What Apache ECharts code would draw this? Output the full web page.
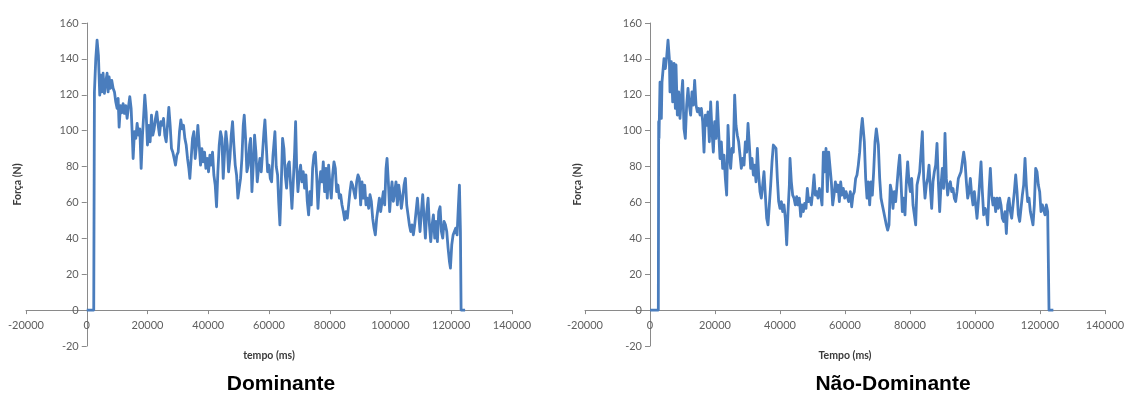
<!DOCTYPE html>
<html>
<head>
<meta charset="utf-8">
<script src="https://cdn.jsdelivr.net/npm/echarts@6/dist/echarts.min.js"></script>
<style>
  html, body { margin: 0; padding: 0; background: #ffffff; }
  #chart { width: 1125px; height: 394px; }
</style>
</head>
<body>
<div id="chart"></div>
<script>
// Força (N) ao longo do tempo (ms) — membro dominante
const domTempo = [0, 2300, 2530, 2970, 3400, 3840, 4280, 4610, 4940, 5380, 5820, 6260, 6700, 7030, 7360, 7800, 8240, 8680, 9120, 9560, 10000, 10330, 10660, 11100, 11540, 11970, 12410, 12850, 13290, 13730, 14170, 14610, 14940, 15270, 15710, 16150, 16590, 17030, 17470, 17910, 18350, 18790, 19110, 19550, 19990, 20430, 20870, 21310, 21750, 22190, 22630, 23070, 23510, 23950, 24390, 24830, 25270, 25710, 26150, 26580, 27020, 27460, 27900, 28340, 28780, 29220, 29660, 30100, 30540, 30980, 31420, 31860, 32300, 32740, 33180, 33610, 33940, 34380, 34820, 35260, 35700, 36140, 36580, 37020, 37460, 37900, 38340, 38780, 39220, 39660, 40100, 40540, 40970, 41410, 41850, 42290, 42730, 43170, 43610, 44050, 44490, 44930, 45370, 45810, 46250, 46690, 47130, 47570, 48000, 48440, 48880, 49320, 49760, 50200, 50640, 51080, 51520, 51850, 52290, 52730, 53170, 53610, 53940, 54380, 54820, 55250, 55690, 56130, 56570, 57010, 57450, 57890, 58330, 58660, 59100, 59540, 59980, 60420, 60860, 61300, 61740, 61950, 62380, 62830, 63200, 63590, 64030, 64470, 64910, 65350, 65790, 66230, 66670, 67110, 67550, 67990, 68430, 68760, 69090, 69530, 69970, 70400, 70840, 71280, 71720, 72160, 72600, 73040, 73480, 73920, 74360, 74800, 75240, 75680, 76120, 76560, 77000, 77430, 77870, 78310, 78750, 79190, 79630, 80070, 80510, 80950, 81390, 81830, 82270, 82710, 83150, 83590, 84030, 84470, 84900, 85340, 85780, 86220, 86660, 87100, 87540, 87980, 88420, 88860, 89300, 89740, 90180, 90620, 91060, 91500, 91930, 92370, 92810, 93250, 93690, 94130, 94570, 95010, 95450, 95890, 96330, 96770, 97210, 97650, 98090, 98530, 98860, 99290, 99730, 100170, 100500, 100940, 101380, 101820, 102260, 102700, 103140, 103580, 104020, 104460, 104900, 105340, 105780, 106220, 106650, 107090, 107530, 107970, 108410, 108850, 109290, 109730, 110170, 110610, 111050, 111490, 111930, 112370, 112810, 113250, 113690, 114120, 114560, 115000, 115440, 115880, 116320, 116760, 117200, 117640, 118080, 118520, 118960, 119400, 119730, 120170, 120610, 121040, 121480, 121920, 122360, 122690, 123020, 123240, 124560];
const domForca = [0, 0, 121.6, 140, 150.5, 142, 119.8, 131, 121.6, 132, 120.8, 127, 132, 121.6, 130, 123.6, 128, 123.6, 121.6, 116, 112.4, 118, 102, 114, 110, 115, 109.6, 114, 106.8, 113.3, 119, 112.4, 99.4, 84.5, 99.4, 95.7, 104, 97.5, 101, 79, 97.5, 110, 119.8, 110, 92, 103, 93.8, 108.7, 97.5, 101, 106.8, 110.5, 103, 97.5, 105, 103, 106.8, 97.5, 93.8, 103, 113, 103, 90, 88, 84.5, 80.8, 86.4, 88, 99.4, 106, 101, 103, 95.7, 92, 84.5, 79, 73.4, 84.5, 95.7, 99.4, 84.5, 92, 103, 92, 80.8, 90, 82.6, 88, 79, 84.5, 77.1, 86.4, 80.8, 88, 75.3, 69.7, 57.6, 77.1, 92, 99.4, 95.7, 73.4, 88, 99.4, 92, 77.1, 84.5, 97.5, 105, 92, 80.8, 75.3, 62.4, 68, 73.4, 84.5, 103, 108.7, 95.7, 77.1, 80.8, 92, 95.7, 66, 80.8, 97.5, 88, 71.5, 79, 84.5, 77.1, 88, 99.4, 106, 92, 77.1, 80.8, 73.4, 71.5, 86, 95, 99.4, 80, 75.3, 60, 47.5, 69.7, 95.7, 90, 75.3, 68, 80.8, 82.6, 69.7, 56.7, 71.5, 88, 105, 80.8, 66, 75.3, 80.8, 71.5, 77.1, 68, 75.3, 60.6, 53.1, 66, 58.6, 79, 86.4, 88, 75.3, 56.7, 69.7, 77.1, 71.5, 82.6, 66, 79, 62.4, 80.8, 69.7, 62.4, 75.3, 82.6, 79, 66, 69.7, 62.4, 64.3, 58.6, 54.9, 50.3, 54.9, 51.2, 58.6, 66, 71.5, 69.7, 66, 62.4, 71.5, 75.3, 73.4, 58.6, 71.5, 62.4, 69.7, 58.6, 62.4, 56.7, 64.3, 60.6, 51.2, 45.7, 41.9, 51.2, 56.7, 62.4, 54.9, 60.6, 66, 58.6, 79, 84.6, 71.5, 54.9, 66, 71.5, 60.6, 66, 71.5, 58.6, 69.7, 64.3, 56.7, 62.4, 69.7, 73.4, 58.6, 53.1, 47.5, 43.8, 47.5, 41.9, 47.5, 54.9, 62.4, 53.1, 43.8, 54.9, 64.3, 51.2, 40.1, 54.9, 62.4, 47.5, 38.2, 47.5, 53.1, 40.1, 49.4, 38.2, 54.9, 57.6, 43.8, 40.1, 49.4, 47.5, 43.8, 34.5, 27.1, 23.4, 36.4, 41.9, 43.8, 45.7, 41.9, 58.6, 69.7, 43.8, 0, 0];

// Força (N) ao longo do tempo (ms) — membro não-dominante
const naoTempo = [0, 2560, 2670, 2770, 3080, 3490, 3690, 4100, 4310, 4720, 5130, 5540, 5950, 6150, 6560, 6980, 7390, 7800, 8000, 8410, 8820, 9230, 9640, 10050, 10460, 10870, 11280, 11690, 12100, 12510, 12920, 13330, 13740, 14160, 14570, 14980, 15390, 15800, 16210, 16620, 17030, 17440, 17850, 18260, 18670, 19080, 19490, 19900, 20310, 20720, 21130, 21540, 21950, 22360, 22770, 23180, 23590, 24000, 24410, 24820, 25230, 25640, 26050, 26460, 26870, 27280, 27690, 28100, 28520, 28930, 29340, 29750, 30160, 30570, 30980, 31390, 31800, 32210, 32620, 33030, 33440, 33850, 34260, 34670, 35080, 35490, 35900, 36310, 36720, 37130, 37540, 37950, 38360, 38770, 39180, 39590, 40000, 40410, 40820, 41230, 41640, 42060, 42470, 42880, 43080, 43490, 43900, 44310, 44720, 45130, 45540, 45950, 46360, 46770, 47180, 47590, 48000, 48410, 48820, 49240, 49650, 50060, 50470, 50880, 51290, 51700, 52110, 52520, 52930, 53340, 53750, 54160, 54570, 54980, 55390, 55800, 56210, 56620, 57030, 57440, 57850, 58260, 58670, 59080, 59490, 59900, 60310, 60720, 61130, 61640, 62050, 62460, 62870, 63280, 63690, 64100, 64510, 64920, 65330, 65640, 65950, 66360, 66770, 67180, 67590, 68000, 68410, 68820, 69230, 69640, 69950, 70260, 70670, 71080, 71490, 71900, 72310, 72720, 73130, 73540, 73950, 74360, 74770, 75180, 75590, 76000, 76410, 76820, 77230, 77640, 78050, 78460, 78870, 79280, 79690, 80100, 80510, 80930, 81340, 81750, 82160, 82570, 82980, 83390, 83800, 84210, 84620, 85030, 85440, 85850, 86260, 86670, 87080, 87490, 87900, 88310, 88720, 89130, 89540, 89950, 90360, 90770, 91180, 91590, 92000, 92410, 92820, 93230, 93640, 94050, 94460, 94880, 95290, 95700, 96110, 96520, 96930, 97340, 97750, 98160, 98570, 98980, 99390, 99800, 100210, 100620, 101030, 101440, 101850, 102260, 102670, 103080, 103490, 103900, 104310, 104720, 105130, 105540, 105950, 106360, 106770, 107180, 107590, 108000, 108410, 108820, 109240, 109650, 110060, 110470, 110880, 111290, 111700, 112110, 112520, 112930, 113340, 113750, 114160, 114570, 114980, 115390, 115800, 116210, 116620, 117030, 117440, 117850, 118260, 118670, 119080, 119490, 119900, 120310, 120720, 121130, 121540, 121950, 122360, 122770, 124110];
const naoForca = [0, 0, 105, 95.7, 127, 106.8, 127, 128, 140.2, 134.6, 141, 150.5, 140.2, 121.6, 138.4, 116, 137.5, 112.4, 136.6, 108.7, 121.6, 106.8, 118, 128, 101, 95.7, 114.3, 123.6, 114.3, 108.7, 121.6, 114.3, 128, 114.3, 110.5, 112.4, 108.7, 112.4, 105, 88, 108.7, 103, 110.5, 93.8, 116, 99.4, 88, 105, 95.7, 116, 99.4, 84.5, 93.8, 79, 86.4, 73.4, 64.1, 103, 86.4, 79, 90.1, 88, 119.8, 103, 97.5, 93.8, 86.4, 79, 84.5, 80.8, 93.8, 88, 104, 92, 79, 84.5, 75.3, 80.8, 71.5, 90.1, 75.3, 66, 62.4, 69.7, 77.1, 64.1, 51.2, 47.5, 58.6, 69.7, 82.6, 92, 92, 90.1, 73.4, 60.5, 56.7, 60.5, 54.9, 58.6, 51.2, 36.4, 54.9, 69.7, 84.5, 71.5, 64.1, 62.4, 58.6, 63.2, 58.6, 62.4, 52.2, 58.6, 54.9, 59.5, 56.7, 67.8, 60.5, 62.4, 58.6, 66, 75.3, 64.1, 66, 62.4, 67.8, 64.1, 58.6, 88, 77.1, 90.1, 66, 88, 88, 71.5, 58.6, 64.1, 71.5, 66, 69.7, 60.5, 71.5, 64.1, 67.8, 62.4, 66, 66, 60.5, 66, 57.6, 64.1, 66, 73.4, 75.3, 80.8, 88, 99.4, 106.8, 105.8, 93.8, 73.4, 62.4, 71.5, 58.6, 71.5, 64.1, 77.1, 93.8, 101, 102, 92, 73.4, 62.4, 58.6, 54.9, 51.2, 47.5, 44.6, 47.5, 69.7, 66, 56.7, 66, 60.5, 69.7, 79, 86.4, 71.5, 54.9, 62.4, 53.1, 71.5, 82.6, 71.5, 66, 73.4, 58.6, 53.1, 47.5, 69.7, 73.4, 77.1, 88, 99.4, 73.4, 62.4, 69.7, 73.4, 80.8, 67.8, 56.7, 71.5, 77.1, 80.8, 92.9, 71.5, 54.9, 69.7, 79, 67.8, 98.5, 73.4, 64.1, 69.7, 71.5, 66, 67.8, 62.4, 60.5, 66, 73.4, 74.3, 77.1, 82.6, 88, 82.6, 71.5, 62.4, 66, 73.4, 64.1, 58.6, 66, 58.6, 51.2, 60.5, 71.5, 82.6, 66, 53.1, 56.7, 54.9, 47.5, 66, 79, 64.1, 58.6, 62.4, 54.9, 62.4, 56.7, 62.4, 58.6, 51.2, 49.4, 54.9, 42.7, 58.6, 62.4, 54.9, 51.2, 58.6, 66, 75.3, 66, 53.1, 49.4, 56.7, 64.1, 69.7, 84.6, 69.7, 60.5, 62.4, 54.9, 51.2, 47.5, 58.6, 79, 77.1, 69.7, 66, 54.9, 58.6, 57.6, 53.1, 58.6, 54.9, 0, 0];

// Escalas dos eixos
const tempoEscala = { min: -20000, max: 140000, interval: 20000 };
const forcaEscala = { min: -20, max: 160, interval: 20 };

const titulos = ['Dominante', 'Não-Dominante'];
const nomesEixoX = ['tempo (ms)', 'Tempo (ms)'];
const nomeEixoY = 'Força (N)';

const toPairs = (ts, vs) => ts.map((t, i) => [t, vs[i]]);

const W = 1125, H = 394;
const grids = [
  { left: 26, right: 613, top: 23, bottom: 48 },
  { left: 585, right: 20, top: 23, bottom: 48 }
];

const AXIS_COLOR = '#8a8a8a';
const LABEL_COLOR = '#5f5f5f';
const NAME_COLOR = '#3a3a3a';
const LINE_COLOR = '#4a7dbd';

// Eixos cruzando em zero (estilo planilha): desloca cada eixo para dentro da grade
function zeroOffsets(g) {
  const w = W - g.left - g.right, h = H - g.top - g.bottom;
  const fx = (0 - tempoEscala.min) / (tempoEscala.max - tempoEscala.min);
  const fy = (0 - forcaEscala.min) / (forcaEscala.max - forcaEscala.min);
  return { x: -h * fy, y: -w * fx };
}

function xAxisFor(gridIndex, name) {
  const off = zeroOffsets(grids[gridIndex]);
  return {
    type: 'value', gridIndex, position: 'bottom', offset: off.x,
    min: tempoEscala.min, max: tempoEscala.max, interval: tempoEscala.interval,
    name, nameLocation: 'middle', nameGap: 40,
    nameTextStyle: { fontFamily: 'Lato', fontWeight: 'bold', fontSize: 10.5, color: NAME_COLOR },
    axisLine: { show: true, onZero: false, lineStyle: { color: AXIS_COLOR, width: 1 } },
    axisTick: { show: true, length: 4, lineStyle: { color: AXIS_COLOR } },
    axisLabel: { margin: 10, fontFamily: 'Lato', fontSize: 11, color: LABEL_COLOR,
      formatter: v => String(v) },
    splitLine: { show: false }
  };
}

function yAxisFor(gridIndex, gap) {
  const off = zeroOffsets(grids[gridIndex]);
  return {
    type: 'value', gridIndex, position: 'left', offset: off.y,
    min: forcaEscala.min, max: forcaEscala.max, interval: forcaEscala.interval,
    name: nomeEixoY, nameLocation: 'middle', nameGap: gap, nameRotate: 90,
    nameTextStyle: { fontFamily: 'Lato', fontWeight: 'bold', fontSize: 10.5, color: NAME_COLOR },
    axisLine: { show: true, onZero: false, lineStyle: { color: AXIS_COLOR, width: 1 } },
    axisTick: { show: true, length: 5, lineStyle: { color: AXIS_COLOR } },
    axisLabel: { margin: 8, fontFamily: 'Lato', fontSize: 11, color: LABEL_COLOR,
      formatter: v => String(v) },
    splitLine: { show: false }
  };
}

function lineSeries(idx, ts, vs) {
  return {
    type: 'line', xAxisIndex: idx, yAxisIndex: idx,
    data: toPairs(ts, vs),
    showSymbol: false, symbol: 'none',
    lineStyle: { color: LINE_COLOR, width: 2.8, join: 'round' },
    silent: true
  };
}

const chart = echarts.init(document.getElementById('chart'), null, { renderer: 'canvas' });
chart.setOption({
  animation: false,
  backgroundColor: '#ffffff',
  grid: grids.map(g => Object.assign({ containLabel: false, outerBoundsMode: 'none' }, g)),
  xAxis: [xAxisFor(0, nomesEixoX[0]), xAxisFor(1, nomesEixoX[1])],
  yAxis: [yAxisFor(0, 64), yAxisFor(1, 67)],
  series: [
    lineSeries(0, domTempo, domForca),
    lineSeries(1, naoTempo, naoForca)
  ],
  graphic: [
    { type: 'text', x: 281, y: 384, style: { text: titulos[0], textAlign: 'center', textVerticalAlign: 'middle',
      font: 'bold 21px "Liberation Sans", Arial, sans-serif', fill: '#000000' } },
    { type: 'text', x: 893, y: 384, style: { text: titulos[1], textAlign: 'center', textVerticalAlign: 'middle',
      font: 'bold 21px "Liberation Sans", Arial, sans-serif', fill: '#000000' } }
  ]
});
</script>
</body>
</html>
